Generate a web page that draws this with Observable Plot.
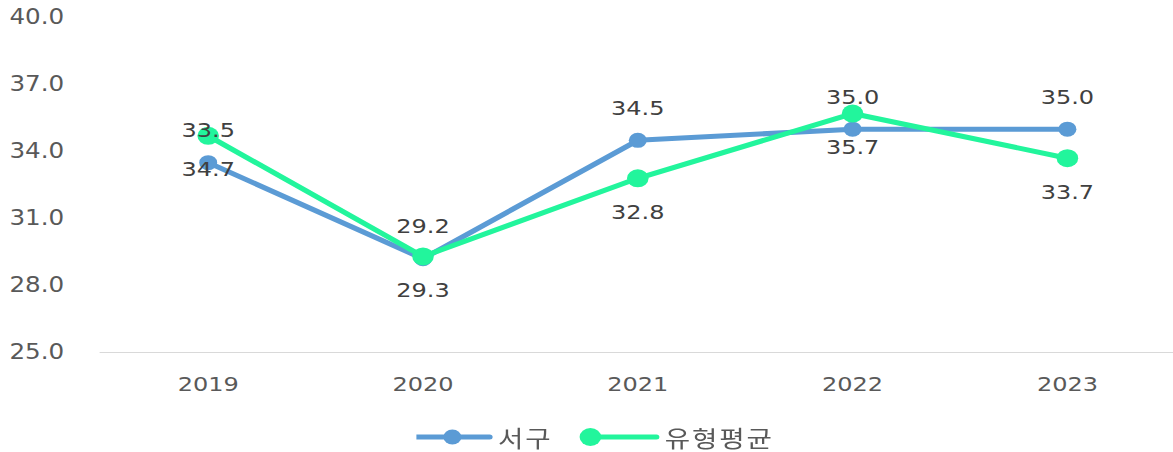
<!DOCTYPE html>
<html><head><meta charset="utf-8">
<script src="https://cdn.jsdelivr.net/npm/d3@7"></script>
<script src="https://cdn.jsdelivr.net/npm/@observablehq/plot@0.6"></script>
<style>
html,body{margin:0;padding:0;background:#fff;overflow:hidden}
#wrap{width:978px;height:452px;transform:scaleX(1.2);transform-origin:0 0;position:relative}
#legend{position:absolute;left:0;top:405px;width:978px;height:47px;font-family:"Noto Sans CJK KR","DejaVu Sans",sans-serif;font-size:23px;color:#595959}
#legend .item{position:absolute;top:32px;transform:translateY(-50%);display:flex;align-items:center;white-space:nowrap}
</style></head><body><div id="wrap"><div id="chart"></div><div id="legend"></div></div>
<script>
const years = ["2019", "2020", "2021", "2022", "2023"];
const seoguValues = [33.5, 29.2, 34.5, 35.0, 35.0];
const avgValues = [34.7, 29.3, 32.8, 35.7, 33.7];
const seriesNames = ["서구", "유형평균"];
const seriesColors = ["#5B9BD5", "#22F59C"];
const yTicks = [25, 28, 31, 34, 37, 40];

const rows = [];
years.forEach((yr, i) => {
  rows.push({year: yr, value: seoguValues[i], series: seriesNames[0]});
  rows.push({year: yr, value: avgValues[i], series: seriesNames[1]});
});
const seogu = rows.filter(d => d.series === seriesNames[0]);
const avg = rows.filter(d => d.series === seriesNames[1]);
const fmt = d => d.toFixed(1);

const chart = Plot.plot({
  width: 978,
  height: 405,
  marginLeft: 83,
  marginRight: 0,
  marginTop: 17,
  marginBottom: 53,
  style: {fontFamily: "'DejaVu Sans', sans-serif", fontSize: "20px", color: "#595959", background: "#fff"},
  x: {type: "point", domain: years, padding: 0.5, label: null},
  y: {domain: [25, 40], label: null},
  color: {domain: seriesNames, range: seriesColors},
  marks: [
    Plot.ruleY([25], {stroke: "#d9d9d9", strokeWidth: 1.2}),
    Plot.axisY({ticks: yTicks, tickSize: 0, tickPadding: 30, tickFormat: fmt, fontSize: 20.5, fill: "#595959"}),
    Plot.axisX({tickSize: 0, tickPadding: 24, fontSize: 20, fill: "#595959"}),
    Plot.line(seogu, {x: "year", y: "value", stroke: seriesColors[0], strokeWidth: 5}),
    Plot.line(avg, {x: "year", y: "value", stroke: seriesColors[1], strokeWidth: 5}),
    Plot.dot(seogu, {x: "year", y: "value", fill: seriesColors[0], r: 7.5}),
    Plot.dot(avg, {x: "year", y: "value", fill: seriesColors[1], r: 9}),
    Plot.text(seogu, {x: "year", y: "value", text: d => fmt(d.value), dy: -32, fontSize: 20, fill: "#404040"}),
    Plot.text(avg, {x: "year", y: "value", text: d => fmt(d.value), dy: 34, fontSize: 20, fill: "#404040"})
  ]
});
document.getElementById("chart").appendChild(chart);

const legend = document.getElementById("legend");
const items = [
  {name: seriesNames[0], color: seriesColors[0], left: 347, lineFrom: 0, lineTo: 61, cx: 30, r: 7.5, w: 66},
  {name: seriesNames[1], color: seriesColors[1], left: 481, lineFrom: 10, lineTo: 66, cx: 11, r: 9, w: 71}
];
items.forEach(it => {
  const div = document.createElement("div");
  div.className = "item";
  div.style.left = it.left + "px";
  div.innerHTML = `<svg width="${it.w}" height="24" style="display:block"><line x1="${it.lineFrom}" x2="${it.lineTo}" y1="12" y2="12" stroke="${it.color}" stroke-width="5" stroke-linecap="round"/><circle cx="${it.cx}" cy="12" r="${it.r}" fill="${it.color}"/></svg><span style="margin-left:2px;letter-spacing:1.5px">${it.name}</span>`;
  legend.appendChild(div);
});
</script>
</body></html>
